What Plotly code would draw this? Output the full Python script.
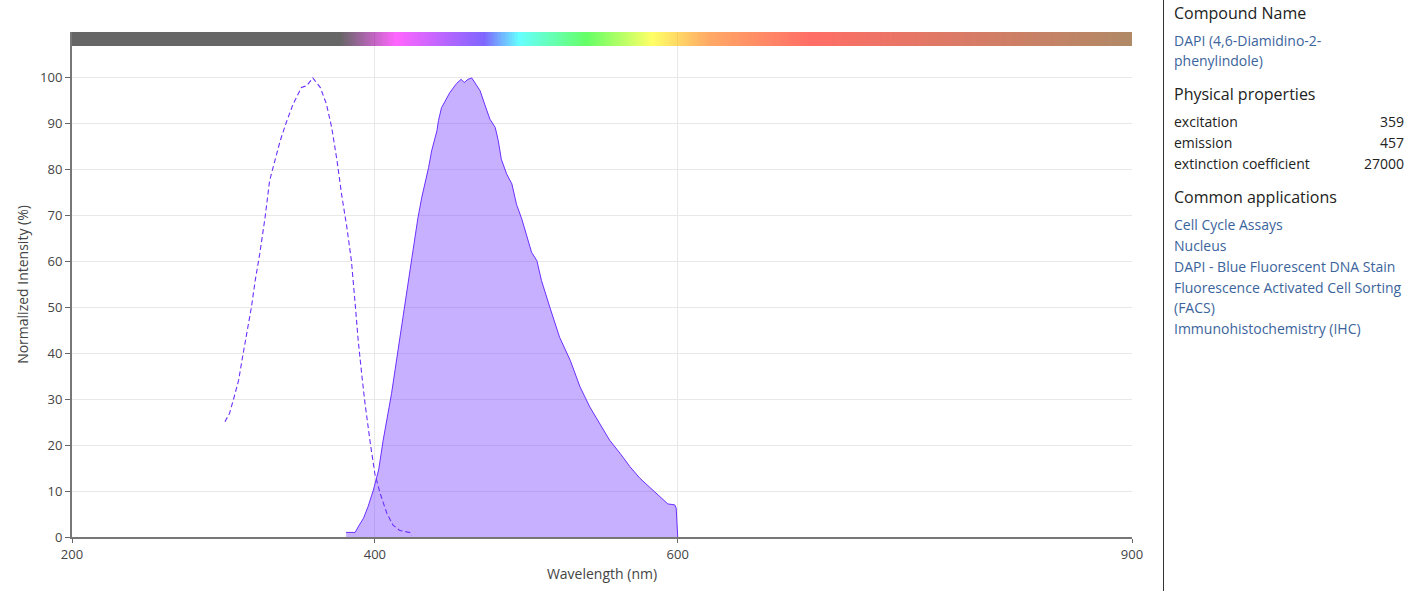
import numpy as np
import plotly.graph_objects as go

# ---------------- data ----------------
ex_wavelength = [301, 304, 306.5, 310, 313, 316.5, 318.5, 321, 324, 327.5, 330.5, 334, 337.5, 341.5,
                 346, 351.5, 355, 359, 364, 368, 371.5, 375, 378, 381.5, 384.5, 387, 389, 391.5,
                 393.5, 397, 400, 403.5, 408, 412, 416.5, 423, 424]
ex_intensity = [25.1, 26.9, 29.8, 34.1, 39.9, 46.4, 50.1, 55.9, 61.7, 69.6, 77.6, 82, 86.3, 90.3,
                94.3, 97.9, 98.3, 100, 97.9, 94.3, 89.2, 82, 74.7, 67.5, 60.2, 50.8, 42.8, 34.9,
                29.1, 20.4, 13.8, 9.5, 5.1, 2.6, 1.4, 1.0, 0.2]

em_wavelength = [381, 387, 389, 392.5, 395.5, 399, 402.5, 405.5, 411, 415.5, 420, 424.5, 428.5, 431,
                 435.5, 437.5, 441, 442, 444, 447.5, 449.5, 454, 457, 459, 461.5, 464, 466, 469.5,
                 472.5, 476, 479.5, 481.5, 483.5, 487, 490.5, 493.5, 497, 500, 503.5, 507, 510,
                 515.5, 522, 529, 535.5, 542, 548.5, 555, 562, 568.5, 575, 581.5, 588, 593.5, 598,
                 599, 600]
em_intensity = [1.0, 1.0, 2.2, 4.1, 6.6, 10.2, 14.6, 21.1, 31.2, 41.4, 51.5, 60.9, 69.6, 74,
                80.5, 84.1, 88.5, 90.7, 93.5, 95.7, 96.8, 98.8, 99.7, 99, 99.7, 100, 99, 97.2,
                94.3, 91, 89.2, 86.3, 82.3, 79.1, 76.9, 72.5, 69.3, 66, 62, 60.2, 55.9,
                50.1, 43.5, 38.5, 32.7, 28.3, 24.7, 21.1, 18.2, 15.3, 12.8, 10.9, 8.8, 7.2, 7.0,
                6.3, 0]

spectrum_wavelengths = [200, 377, 414, 472, 495, 540, 583, 620, 688, 900]
spectrum_colors = ['#000000', '#000000', '#ff00ff', '#2a00ff', '#00ffff', '#00ff00',
                   '#ffff00', '#ff7100', '#ff0d00', '#7b3c00']
bar_band = [107, 110]

x_ticks = [200, 400, 600, 900]
y_ticks = list(range(0, 101, 10))

info_heading_color = '#222222'
link_color = '#3b649c'

# ---------------- figure ----------------
W_MIN, W_MAX = 200, 900
cscale = [[(w - W_MIN) / (W_MAX - W_MIN), c] for w, c in zip(spectrum_wavelengths, spectrum_colors)]
bar_x = np.arange(W_MIN, W_MAX + 1)

fig = go.Figure()
fig.add_trace(go.Heatmap(
    x=bar_x, y=bar_band, z=[bar_x], zmin=W_MIN, zmax=W_MAX,
    colorscale=cscale, showscale=False, opacity=0.6, hoverinfo='skip'))

line_color = '#6b2fff'
fig.add_trace(go.Scatter(
    x=em_wavelength, y=em_intensity, mode='lines', fill='tozeroy',
    fillcolor='rgba(107,47,255,0.38)', line=dict(color=line_color, width=1),
    name='Emission', showlegend=False))
fig.add_trace(go.Scatter(
    x=ex_wavelength, y=ex_intensity, mode='lines',
    line=dict(color=line_color, width=1.1, dash='5px,3px'),
    name='Excitation', showlegend=False))

fig.update_xaxes(
    range=[W_MIN, W_MAX], tickvals=x_ticks, ticktext=[str(t) for t in x_ticks],
    showgrid=True, gridcolor='#e8e8e8', gridwidth=1, zeroline=False,
    showline=True, linecolor='#777777', linewidth=2, automargin=False,
    ticks='outside', ticklen=4, tickcolor='#666666',
    tickfont=dict(size=13, color='#444444'),
    title=dict(text='Wavelength (nm)', font=dict(size=14, color='#444444'), standoff=8))
fig.update_yaxes(
    range=[0, 110], tickvals=y_ticks, showgrid=True, gridcolor='#e8e8e8', gridwidth=1,
    zeroline=False, showline=True, linecolor='#777777', linewidth=2, automargin=False,
    ticks='outside', ticklen=5, tickcolor='#666666',
    tickfont=dict(size=13, color='#444444'),
    title=dict(text='Normalized Intensity (%)', font=dict(size=14, color='#444444'), standoff=8))

L, R, T, B = 72, 281, 32, 54
PW, PH = 1413 - L - R, 591 - T - B


def px(xp):
    return (xp - L) / PW


def py(yp):
    return (591 - B - yp) / PH


annotations = []


def add_text(text, xp, yp, size, color, anchor='left'):
    annotations.append(dict(
        text=text, x=px(xp), y=py(yp), xref='paper', yref='paper',
        xanchor=anchor, yanchor='middle', showarrow=False,
        font=dict(size=size, color=color, family='Open Sans')))


TX = 1172
RX = 1406
BODY = 14
add_text('Compound Name', TX, 13, 16, info_heading_color)
add_text('DAPI (4,6-Diamidino-2-', TX, 40, BODY, link_color)
add_text('phenylindole)', TX, 60, BODY, link_color)
add_text('Physical properties', TX, 94, 16, info_heading_color)
props = [('excitation', '359', 121), ('emission', '457', 142), ('extinction coefficient', '27000', 163)]
for name, val, yy in props:
    add_text(name, TX, yy, BODY, info_heading_color)
    add_text(val, RX, yy, BODY, info_heading_color, anchor='right')
add_text('Common applications', TX, 197, 16, info_heading_color)
apps = [('Cell Cycle Assays', 224), ('Nucleus', 245), ('DAPI - Blue Fluorescent DNA Stain', 266),
        ('Fluorescence Activated Cell Sorting', 287), ('(FACS)', 307), ('Immunohistochemistry (IHC)', 328)]
for t, yy in apps:
    add_text(t, TX, yy, BODY, link_color)

fig.update_layout(
    width=1413, height=591, autosize=False,
    margin=dict(l=L, r=R, t=T, b=B, pad=0),
    paper_bgcolor='white', plot_bgcolor='white',
    font=dict(family='Open Sans', color='#444444'),
    annotations=annotations,
    shapes=[dict(type='line', xref='paper', yref='paper', x0=px(1163.5), x1=px(1163.5),
                 y0=py(591), y1=py(0), line=dict(color='#333333', width=1))],
    showlegend=False)

fig.write_html('out.html')
